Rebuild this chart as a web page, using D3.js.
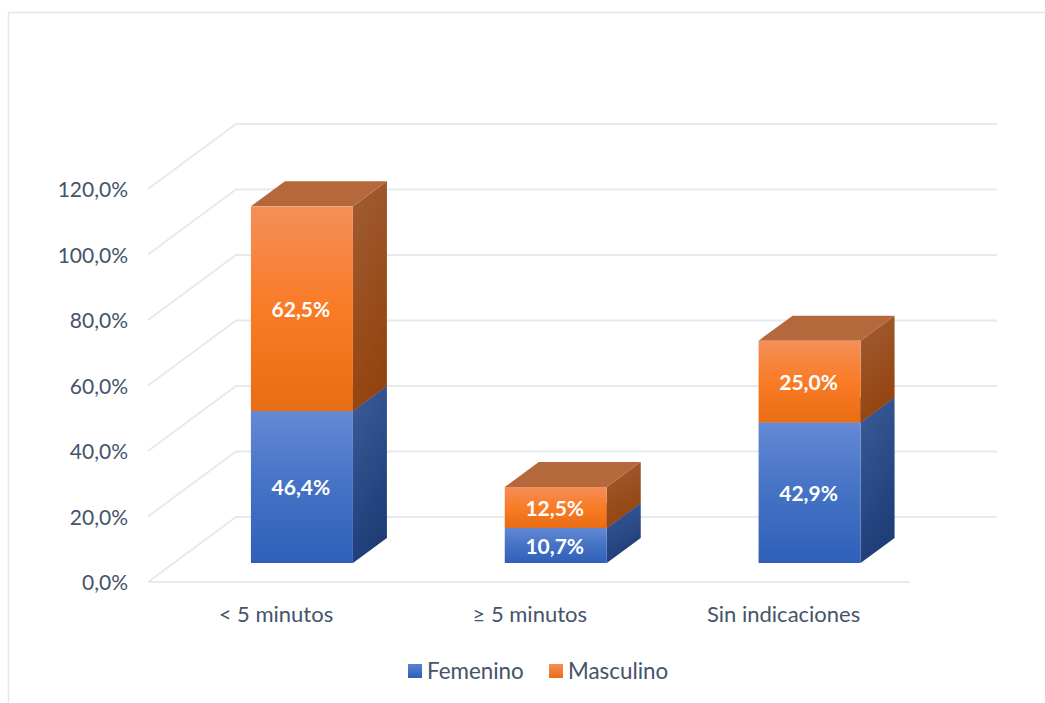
<!DOCTYPE html>
<html lang="es">

<head>
    <meta charset="UTF-8">
    <title>Tiempo por sexo</title>
    <script src="https://d3js.org/d3.v7.min.js"></script>
    <style>
        html, body { margin: 0; padding: 0; background: #fff; }
        svg { display: block; }
        text { font-family: Lato, sans-serif; }
    </style>
</head>

<body>
    <script>
        var categories = ["< 5 minutos", "≥ 5 minutos", "Sin indicaciones"];
        var femenino = [46.4, 10.7, 42.9];
        var masculino = [62.5, 12.5, 25.0];
        var tickValues = [0, 20, 40, 60, 80, 100, 120];
        var seriesNames = ["Femenino", "Masculino"];

        var width = 1045;
        var height = 703;
        var fontSize = "21px";
        var depthX = 88, depthY = 65;      // floor depth
        var barDepthX = 34, barDepthY = 25; // bar depth
        var barShiftX = 27, barShiftY = 19; // bar position on the floor

        var svg = d3.select("body")
            .append("svg")
            .attr("width", width)
            .attr("height", height);

        var y = d3.scaleLinear().domain([0, 120]).range([582, 189]);
        var x = d3.scaleBand().domain(categories).range([148, 909.5]);
        var barWidth = 102;

        var defs = svg.append("defs");
        function gradient(id, stops, x2, y2) {
            var g = defs.append("linearGradient").attr("id", id)
                .attr("x1", 0).attr("y1", 0).attr("x2", x2).attr("y2", y2);
            stops.forEach(function (s, i) {
                g.append("stop").attr("offset", i / (stops.length - 1)).attr("stop-color", s);
            });
        }
        gradient("frontBlue", ["#6489d5", "#4472c4", "#2f5fb9"], 0, 1);
        gradient("sideBlue", ["#3a5c9a", "#1f3d77"], 0.3, 1);
        gradient("frontOrange", ["#f48f59", "#f97b26", "#e96d14"], 0, 1);
        gradient("sideOrange", ["#a15c35", "#94440e"], 0.3, 1);
        gradient("legendBlue", ["#5b82d0", "#2f5fb9"], 0, 1);
        gradient("legendOrange", ["#f48f59", "#e96d14"], 0, 1);

        // chart frame: only top and left edges show in the crop
        svg.append("path")
            .attr("d", "M8.5,703V12.5H1045")
            .attr("fill", "none")
            .attr("stroke", "#e4e7eb")
            .attr("stroke-width", 1.5);

        // wall and side gridlines
        var grid = svg.append("g")
            .attr("fill", "none")
            .attr("stroke", "#e6e9ee")
            .attr("stroke-width", 2);
        grid.selectAll("path")
            .data(tickValues)
            .enter()
            .append("path")
            .attr("d", function (d) {
                return "M148," + y(d) + "L" + (148 + depthX) + "," + (y(d) - depthY) + "H997";
            });
        grid.append("path")
            .attr("d", "M148," + y(0) + "H910");

        // axis labels
        var axisY = d3.axisLeft(y)
            .tickValues(tickValues)
            .tickSize(0)
            .tickPadding(0)
            .tickFormat(function (d) { return d.toFixed(1).replace(".", ",") + "%"; });
        var gy = svg.append("g")
            .attr("transform", "translate(128,1)")
            .call(axisY);
        gy.select(".domain").remove();
        gy.selectAll("text")
            .attr("fill", "#44546a")
            .style("font-size", fontSize)
            .style("font-family", "Lato, sans-serif");

        var axisX = d3.axisBottom(x).tickSize(0).tickPadding(0);
        var gx = svg.append("g")
            .attr("transform", "translate(1,606)")
            .call(axisX);
        gx.select(".domain").remove();
        gx.selectAll("text")
            .attr("fill", "#44546a")
            .style("font-size", "22px")
            .style("font-family", "Lato, sans-serif");

        // stacked bars
        var rows = categories.map(function (c, i) {
            return { category: c, Femenino: femenino[i], Masculino: masculino[i] };
        });
        var stacked = d3.stack().keys(seriesNames)(rows);
        var pxPerUnit = y(0) - y(1);
        var looks = {
            Femenino: { front: "url(#frontBlue)", side: "url(#sideBlue)", top: "#3f6099" },
            Masculino: { front: "url(#frontOrange)", side: "url(#sideOrange)", top: "#b6683d" }
        };

        stacked.forEach(function (serie) {
            var look = looks[serie.key];
            var bars = svg.append("g").selectAll("g")
                .data(serie)
                .enter()
                .append("g");

            function left(d) { return x(d.data.category) + (x.bandwidth() - barWidth) / 2 + barShiftX; }
            function yTop(d) { return y(0) - barShiftY - d[1] * pxPerUnit; }
            function yBottom(d) { return y(0) - barShiftY - d[0] * pxPerUnit; }

            bars.append("path")
                .attr("fill", look.side)
                .attr("d", function (d) {
                    var r = left(d) + barWidth;
                    return "M" + r + "," + yTop(d) + "l" + barDepthX + "," + (-barDepthY) +
                        "V" + (yBottom(d) - barDepthY) + "L" + r + "," + yBottom(d) + "Z";
                });
            bars.append("path")
                .attr("fill", look.top)
                .attr("d", function (d) {
                    return "M" + left(d) + "," + yTop(d) + "l" + barDepthX + "," + (-barDepthY) +
                        "h" + barWidth + "l" + (-barDepthX) + "," + barDepthY + "Z";
                });
            bars.append("rect")
                .attr("x", left)
                .attr("y", yTop)
                .attr("width", barWidth)
                .attr("height", function (d) { return yBottom(d) - yTop(d); })
                .attr("fill", look.front);
            bars.append("text")
                .attr("x", function (d) { return left(d) + barWidth / 2 - 1; })
                .attr("y", function (d) { return (yTop(d) + yBottom(d)) / 2 + 1; })
                .attr("dy", "0.35em")
                .attr("text-anchor", "middle")
                .attr("fill", "#fff")
                .style("font-size", fontSize)
                .style("font-weight", "700")
                .text(function (d) { return (d[1] - d[0]).toFixed(1).replace(".", ",") + "%"; });
        });

        // legend
        var legendX = d3.scalePoint().domain(seriesNames).range([408, 549]);
        var legend = svg.append("g").selectAll("g")
            .data(seriesNames)
            .enter()
            .append("g")
            .attr("transform", function (d) { return "translate(" + legendX(d) + ",664)"; });
        legend.append("rect")
            .attr("width", 14)
            .attr("height", 14)
            .attr("fill", function (d, i) { return i === 0 ? "url(#legendBlue)" : "url(#legendOrange)"; });
        legend.append("text")
            .attr("x", 19)
            .attr("y", 7)
            .attr("dy", "0.35em")
            .attr("fill", "#44546a")
            .style("font-size", "22.4px")
            .text(function (d) { return d; });
    </script>
</body>

</html>
